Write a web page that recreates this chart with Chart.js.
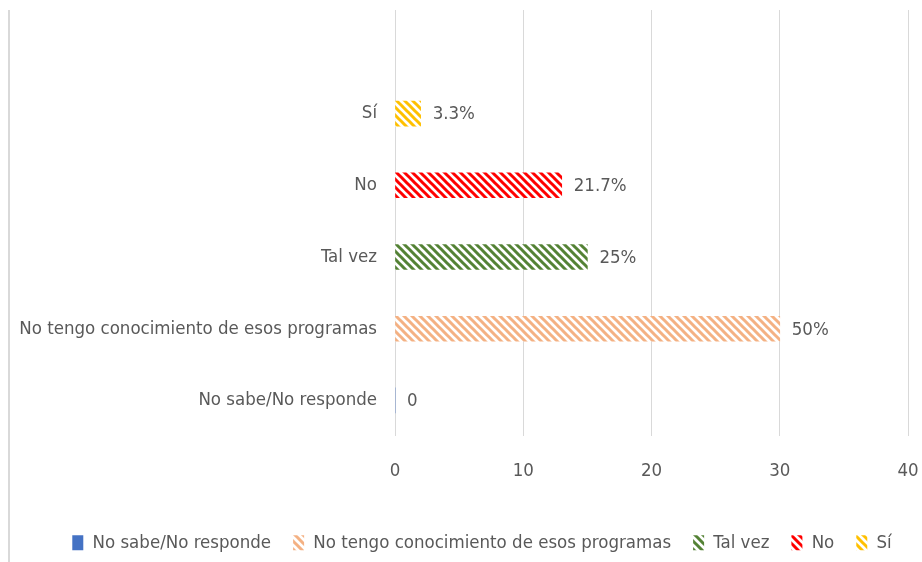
<!DOCTYPE html>
<html>
<head>
<meta charset="utf-8">
<script src="https://cdn.jsdelivr.net/npm/chart.js@4.4.1/dist/chart.umd.min.js"></script>
<style>
  html, body { margin: 0; padding: 0; background: #fff; }
  #wrap { width: 922px; height: 562px; position: relative; }
</style>
</head>
<body>
<div id="wrap"><canvas id="grafico"></canvas></div>
<script>
// categorías (de arriba a abajo; la primera está vacía, como en el original)
const categorias = ["", "Sí", "No", "Tal vez", "No tengo conocimiento de esos programas", "No sabe/No responde"];
// series (orden de la leyenda)
const series = ["No sabe/No responde", "No tengo conocimiento de esos programas", "Tal vez", "No", "Sí"];
const valores = [0, 30, 15, 13, 2];
const etiquetas = ["0", "50%", "25%", "21.7%", "3.3%"];
const colores = ["#4472C4", "#F4B183", "#548235", "#FF0000", "#FFC000"];
const ticksX = [0, 10, 20, 30, 40];

const FUENTE = "'DejaVu Sans Condensed', 'Liberation Sans Narrow', sans-serif";
const TAM = 18.5;
const GRIS = "#595959";

function rayado(color, solido) {
    if (solido) return color;
    const c = document.createElement("canvas");
    c.width = 8; c.height = 8;
    const g = c.getContext("2d");
    g.fillStyle = "#fff";
    g.fillRect(0, 0, 8, 8);
    g.strokeStyle = color;
    g.lineWidth = 3;
    g.beginPath();
    g.moveTo(-2, -2); g.lineTo(10, 10);
    g.moveTo(-2, 6); g.lineTo(2, 10);
    g.moveTo(6, -2); g.lineTo(10, 2);
    g.stroke();
    return g.createPattern(c, "repeat");
}

const datasets = series.map((nombre, i) => {
    const data = categorias.map(c => (c === nombre ? valores[i] : null));
    return {
        label: nombre,
        data: data,
        backgroundColor: rayado(colores[i], i === 0),
        borderWidth: 0,
        barThickness: 25
    };
});

// etiquetas de datos al final de cada barra
const etiquetasPlugin = {
    id: "etiquetas",
    afterDatasetsDraw(chart) {
        const ctx = chart.ctx;
        ctx.save();
        ctx.font = TAM + "px " + FUENTE;
        ctx.fillStyle = GRIS;
        ctx.textBaseline = "middle";
        chart.data.datasets.forEach((ds, i) => {
            const meta = chart.getDatasetMeta(i);
            const idx = categorias.indexOf(series[i]);
            const el = meta.data[idx];
            if (!el) return;
            ctx.fillText(etiquetas[i], el.x + 12, el.y + 1);
        });
        ctx.restore();
    }
};

// línea del marco a la izquierda, recorte superior de la rejilla y leyenda desplazada
const marcoPlugin = {
    id: "marco",
    afterLayout(chart) {
        if (chart.legend) {
            chart.legend.left += 28;
            chart.legend.right += 28;
        }
    },
    beforeDraw(chart) {
        const ctx = chart.ctx;
        ctx.save();
        ctx.fillStyle = "#d9d9d9";
        ctx.fillRect(8, 10, 2, chart.height - 10);
        ctx.restore();
    },
    beforeDatasetsDraw(chart) {
        const ctx = chart.ctx;
        const a = chart.chartArea;
        ctx.save();
        ctx.fillStyle = "#fff";
        ctx.fillRect(a.left - 2, 0, a.right - a.left + 4, 10);
        ctx.restore();
    }
};

new Chart(document.getElementById("grafico"), {
    type: "bar",
    data: { labels: categorias, datasets: datasets },
    options: {
        indexAxis: "y",
        responsive: true,
        maintainAspectRatio: false,
        animation: false,
        layout: { padding: { top: 6, right: 14, left: 0, bottom: 0 } },
        scales: {
            x: {
                min: 0, max: 40,
                afterBuildTicks(scale) { scale.ticks = ticksX.map(v => ({ value: v })); },
                afterFit(scale) {
                    scale.paddingLeft = 0;
                    scale.paddingRight = 0;
                    scale.height += 5;
                },
                grid: { color: "#d9d9d9", lineWidth: 1, drawTicks: false },
                border: { display: false },
                ticks: { color: GRIS, font: { family: FUENTE, size: TAM }, padding: 24 }
            },
            y: {
                stacked: true,
                afterFit(scale) {
                    scale.width = 395;
                    scale.paddingTop = 0;
                    scale.paddingBottom = 0;
                },
                grid: { display: false, drawTicks: false },
                border: { display: false },
                ticks: { color: GRIS, font: { family: FUENTE, size: TAM }, padding: 18 }
            }
        },
        plugins: {
            legend: {
                position: "bottom",
                labels: {
                    color: GRIS,
                    font: { family: FUENTE, size: TAM },
                    boxWidth: 11,
                    boxHeight: 15,
                    padding: 22
                }
            },
            tooltip: { enabled: false }
        }
    },
    plugins: [etiquetasPlugin, marcoPlugin]
});
</script>
</body>
</html>
